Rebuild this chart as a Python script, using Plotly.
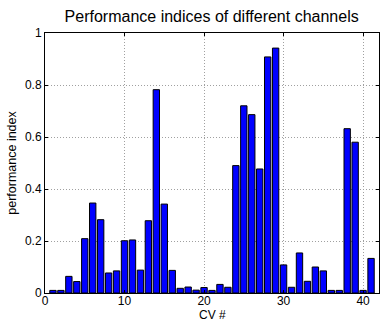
import plotly.graph_objects as go

cv = list(range(1, 42))
perf = [0.01, 0.01, 0.064, 0.044, 0.209, 0.346, 0.282, 0.077, 0.085, 0.201,
        0.204, 0.088, 0.278, 0.782, 0.342, 0.087, 0.018, 0.023, 0.011, 0.021,
        0.01, 0.033, 0.022, 0.49, 0.72, 0.686, 0.477, 0.908, 0.942, 0.108,
        0.022, 0.154, 0.045, 0.1, 0.085, 0.01, 0.01, 0.632, 0.58, 0.01, 0.133]
xticks = [0, 10, 20, 30, 40]
yticks = [0, 0.2, 0.4, 0.6, 0.8, 1]
ytext = ["0", "0.2", "0.4", "0.6", "0.8", "1"]

fig = go.Figure(go.Bar(x=cv, y=perf, width=0.8,
                       marker=dict(color="#0000FF", line=dict(color="black", width=1))))

fam = "Liberation Sans, Arial, sans-serif"
tfont = dict(family=fam, size=12, color="black")
fig.update_layout(
    width=380, height=322,
    margin=dict(l=45, r=1, t=33, b=29),
    plot_bgcolor="white", paper_bgcolor="white",
    font=dict(family=fam, size=12, color="black"),
    showlegend=False,
    title=dict(text="Performance indices of different channels", x=0.557, xanchor="center",
               y=0.95, yanchor="middle", font=dict(size=16, color="black")),
    annotations=[dict(text="CV #", xref="paper", yref="paper", x=0.5, y=0,
                      xanchor="center", yanchor="middle", yshift=-21.5, showarrow=False,
                      font=dict(family=fam, size=12, color="black"))],
)
fig.update_xaxes(range=[0, 42], tickvals=xticks, showgrid=True, gridcolor="#a0a0a0",
                 griddash="1px,2px", gridwidth=1, showline=True, linecolor="black", linewidth=1,
                 mirror="ticks", ticks="inside", ticklen=3, tickcolor="black",
                 zeroline=False, tickfont=tfont, ticklabelstandoff=-3)
fig.update_yaxes(range=[0, 1], tickvals=yticks, ticktext=ytext, showgrid=True,
                 gridcolor="#a0a0a0", griddash="1px,2px", gridwidth=1, showline=True,
                 linecolor="black", linewidth=1, mirror="ticks", ticks="inside",
                 ticklen=3, tickcolor="black", zeroline=False,
                 title=dict(text="performance index", standoff=5, font=dict(size=12.5)),
                 tickfont=tfont)

fig.write_html("out.html", config={"displayModeBar": False},
               post_script="document.body.style.margin='0';document.body.style.overflow='hidden';")
